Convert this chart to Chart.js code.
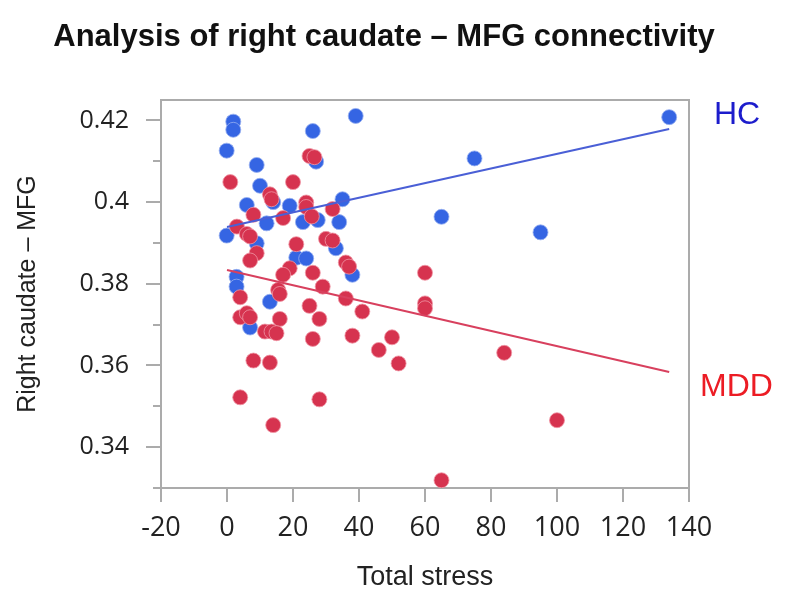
<!DOCTYPE html>
<html>
<head>
<meta charset="utf-8">
<script src="https://cdn.jsdelivr.net/npm/chart.js@4.4.1/dist/chart.umd.min.js"></script>
<style>
  html, body { margin: 0; padding: 0; background: #fff; }
  #wrap { width: 800px; height: 604px; }
</style>
</head>
<body>
<div id="wrap"><canvas id="stressChart" width="800" height="604"></canvas></div>
<script>
// healthy controls (HC)
const hcStress = [1.9, 1.9, -0.1, 26, 27, 9, 10, 14, 6, 19, 35, 12, 23, 27.5, 34, -0.1, 9, 21, 24, 33, 2.9, 2.9, 13, 7, 39, 75, 38, 65, 134, 95];
const hcConn = [0.4197, 0.4177, 0.4126, 0.4174, 0.4099, 0.4091, 0.404, 0.400, 0.3993, 0.3991, 0.4007, 0.3948, 0.3951, 0.3956, 0.3951, 0.3918, 0.3899, 0.3864, 0.3862, 0.3887, 0.3817, 0.3793, 0.3756, 0.3693, 0.4211, 0.4107, 0.3822, 0.3964, 0.4208, 0.3926];

// depressed patients (MDD)
const mddStress = [25, 26.5, 1, 20, 13, 13.5, 24, 24, 32, 8, 17, 25.7, 3, 6, 7, 21, 30, 32, 9, 7, 19, 17, 26, 36, 37, 29, 15.5, 36, 4, 16, 4, 6, 7, 25, 16, 28, 11.5, 13.5, 15, 26, 38, 8, 13, 4, 28, 14, 60, 41, 60, 60, 50, 46, 52, 84, 65, 100];
const mddConn = [0.4113, 0.411, 0.4049, 0.4049, 0.4019, 0.4007, 0.3999, 0.3988, 0.3983, 0.3969, 0.3961, 0.3965, 0.394, 0.3922, 0.3916, 0.3897, 0.391, 0.3906, 0.3875, 0.3857, 0.3838, 0.3822, 0.3827, 0.3852, 0.3842, 0.3793, 0.3785, 0.3764, 0.3767, 0.3775, 0.3718, 0.3728, 0.3718, 0.3746, 0.3714, 0.3714, 0.3683, 0.3683, 0.3679, 0.3665, 0.3673, 0.3612, 0.3607, 0.3522, 0.3517, 0.3454, 0.3827, 0.3732, 0.3752, 0.374, 0.3669, 0.3638, 0.3605, 0.3631, 0.3319, 0.3466];

// fitted lines (end points)
const hcFitX = [0, 134];
const hcFitY = [0.3939, 0.4179];
const mddFitX = [0, 134];
const mddFitY = [0.3834, 0.3584];

// axes
const xTicks = [-20, 0, 20, 40, 60, 80, 100, 120, 140];
const yTicks = [0.34, 0.36, 0.38, 0.40, 0.42];
const yTickLabels = ['0.34', '0.36', '0.38', '0.4', '0.42'];
const yMinorTicks = [0.33, 0.35, 0.37, 0.39, 0.41];

const chartTitle = 'Analysis of right caudate – MFG connectivity';

const toPoints = (xs, ys) => xs.map((x, i) => ({ x: x, y: ys[i] }));

const blue = '#3565e3';
const red = '#d6334f';
const axisGrey = '#ababab';

const framePlugin = {
    id: 'frame',
    afterDraw(chart) {
        const { ctx, chartArea: a, scales } = chart;
        ctx.save();
        ctx.strokeStyle = axisGrey;
        ctx.lineWidth = 2;
        ctx.beginPath();
        ctx.moveTo(a.left, a.top);
        ctx.lineTo(a.right, a.top);
        ctx.lineTo(a.right, a.bottom);
        ctx.stroke();
        // minor ticks on y
        yMinorTicks.forEach(v => {
            const py = Math.round(scales.y.getPixelForValue(v));
            ctx.beginPath();
            ctx.moveTo(a.left - 8, py);
            ctx.lineTo(a.left, py);
            ctx.stroke();
        });
        // title, a bit right of the plot centre like the original
        ctx.font = 'bold 31px "Liberation Sans", Arial, sans-serif';
        ctx.textBaseline = 'middle';
        ctx.textAlign = 'center';
        ctx.fillStyle = '#111';
        ctx.fillText(chartTitle, 384, 37);
        // group names next to the fitted lines
        ctx.font = '32px "Liberation Sans", Arial, sans-serif';
        ctx.textAlign = 'left';
        ctx.fillStyle = '#1c1ccc';
        ctx.fillText('HC', a.right + 25, scales.y.getPixelForValue(0.4213));
        ctx.fillStyle = '#ec1c24';
        ctx.fillText('MDD', a.right + 11, scales.y.getPixelForValue(0.3547));
        ctx.restore();
    }
};

new Chart(document.getElementById('stressChart'), {
    type: 'scatter',
    data: {
        datasets: [
            {
                type: 'line',
                label: 'HC fit',
                data: toPoints(hcFitX, hcFitY),
                borderColor: '#4a5fd6',
                borderWidth: 2,
                pointRadius: 0,
                fill: false
            },
            {
                type: 'line',
                label: 'MDD fit',
                data: toPoints(mddFitX, mddFitY),
                borderColor: '#d8405e',
                borderWidth: 2,
                pointRadius: 0,
                fill: false
            },
            {
                label: 'MDD',
                data: toPoints(mddStress, mddConn),
                backgroundColor: red,
                borderColor: 'rgba(240, 150, 165, 0.8)',
                borderWidth: 1,
                pointRadius: 7.5
            },
            {
                label: 'HC',
                data: toPoints(hcStress, hcConn),
                backgroundColor: blue,
                borderColor: 'rgba(150, 175, 240, 0.8)',
                borderWidth: 1,
                pointRadius: 7.5
            }
        ]
    },
    options: {
        responsive: false,
        animation: false,
        layout: {
            padding: { left: 0, right: 111, top: 100, bottom: 0 }
        },
        plugins: {
            legend: { display: false },
            tooltip: { enabled: false },
            title: { display: false }
        },
        scales: {
            x: {
                type: 'linear',
                min: -20,
                max: 140,
                afterBuildTicks: scale => { scale.ticks = xTicks.map(v => ({ value: v })); },
                afterFit: scale => { scale.height = 116; },
                grid: {
                    drawOnChartArea: false,
                    drawTicks: true,
                    tickLength: 14,
                    color: axisGrey,
                    lineWidth: 2
                },
                border: { display: true, color: axisGrey, width: 2 },
                ticks: {
                    color: '#222',
                    padding: 10,
                    font: { family: '"Open Sans", sans-serif', size: 27 },
                    callback: v => String(v)
                },
                title: {
                    display: true,
                    text: 'Total stress',
                    color: '#222',
                    font: { family: '"Liberation Sans", Arial, sans-serif', size: 27 },
                    padding: { top: 0, bottom: 10 }
                }
            },
            y: {
                type: 'linear',
                min: 0.33,
                max: 0.425,
                afterBuildTicks: scale => { scale.ticks = yTicks.map(v => ({ value: v })); },
                afterFit: scale => { scale.width = 161; },
                grid: {
                    drawOnChartArea: false,
                    drawTicks: true,
                    tickLength: 15,
                    color: axisGrey,
                    lineWidth: 2
                },
                border: { display: true, color: axisGrey, width: 2 },
                ticks: {
                    color: '#222',
                    padding: 17,
                    font: { family: '"Open Sans", sans-serif', size: 25 },
                    callback: (v, i) => yTickLabels[i]
                },
                title: {
                    display: true,
                    text: 'Right caudate – MFG',
                    color: '#222',
                    font: { family: '"Liberation Sans", Arial, sans-serif', size: 25 },
                    padding: { top: 13, bottom: 0 }
                }
            }
        }
    },
    plugins: [framePlugin]
});
</script>
</body>
</html>
